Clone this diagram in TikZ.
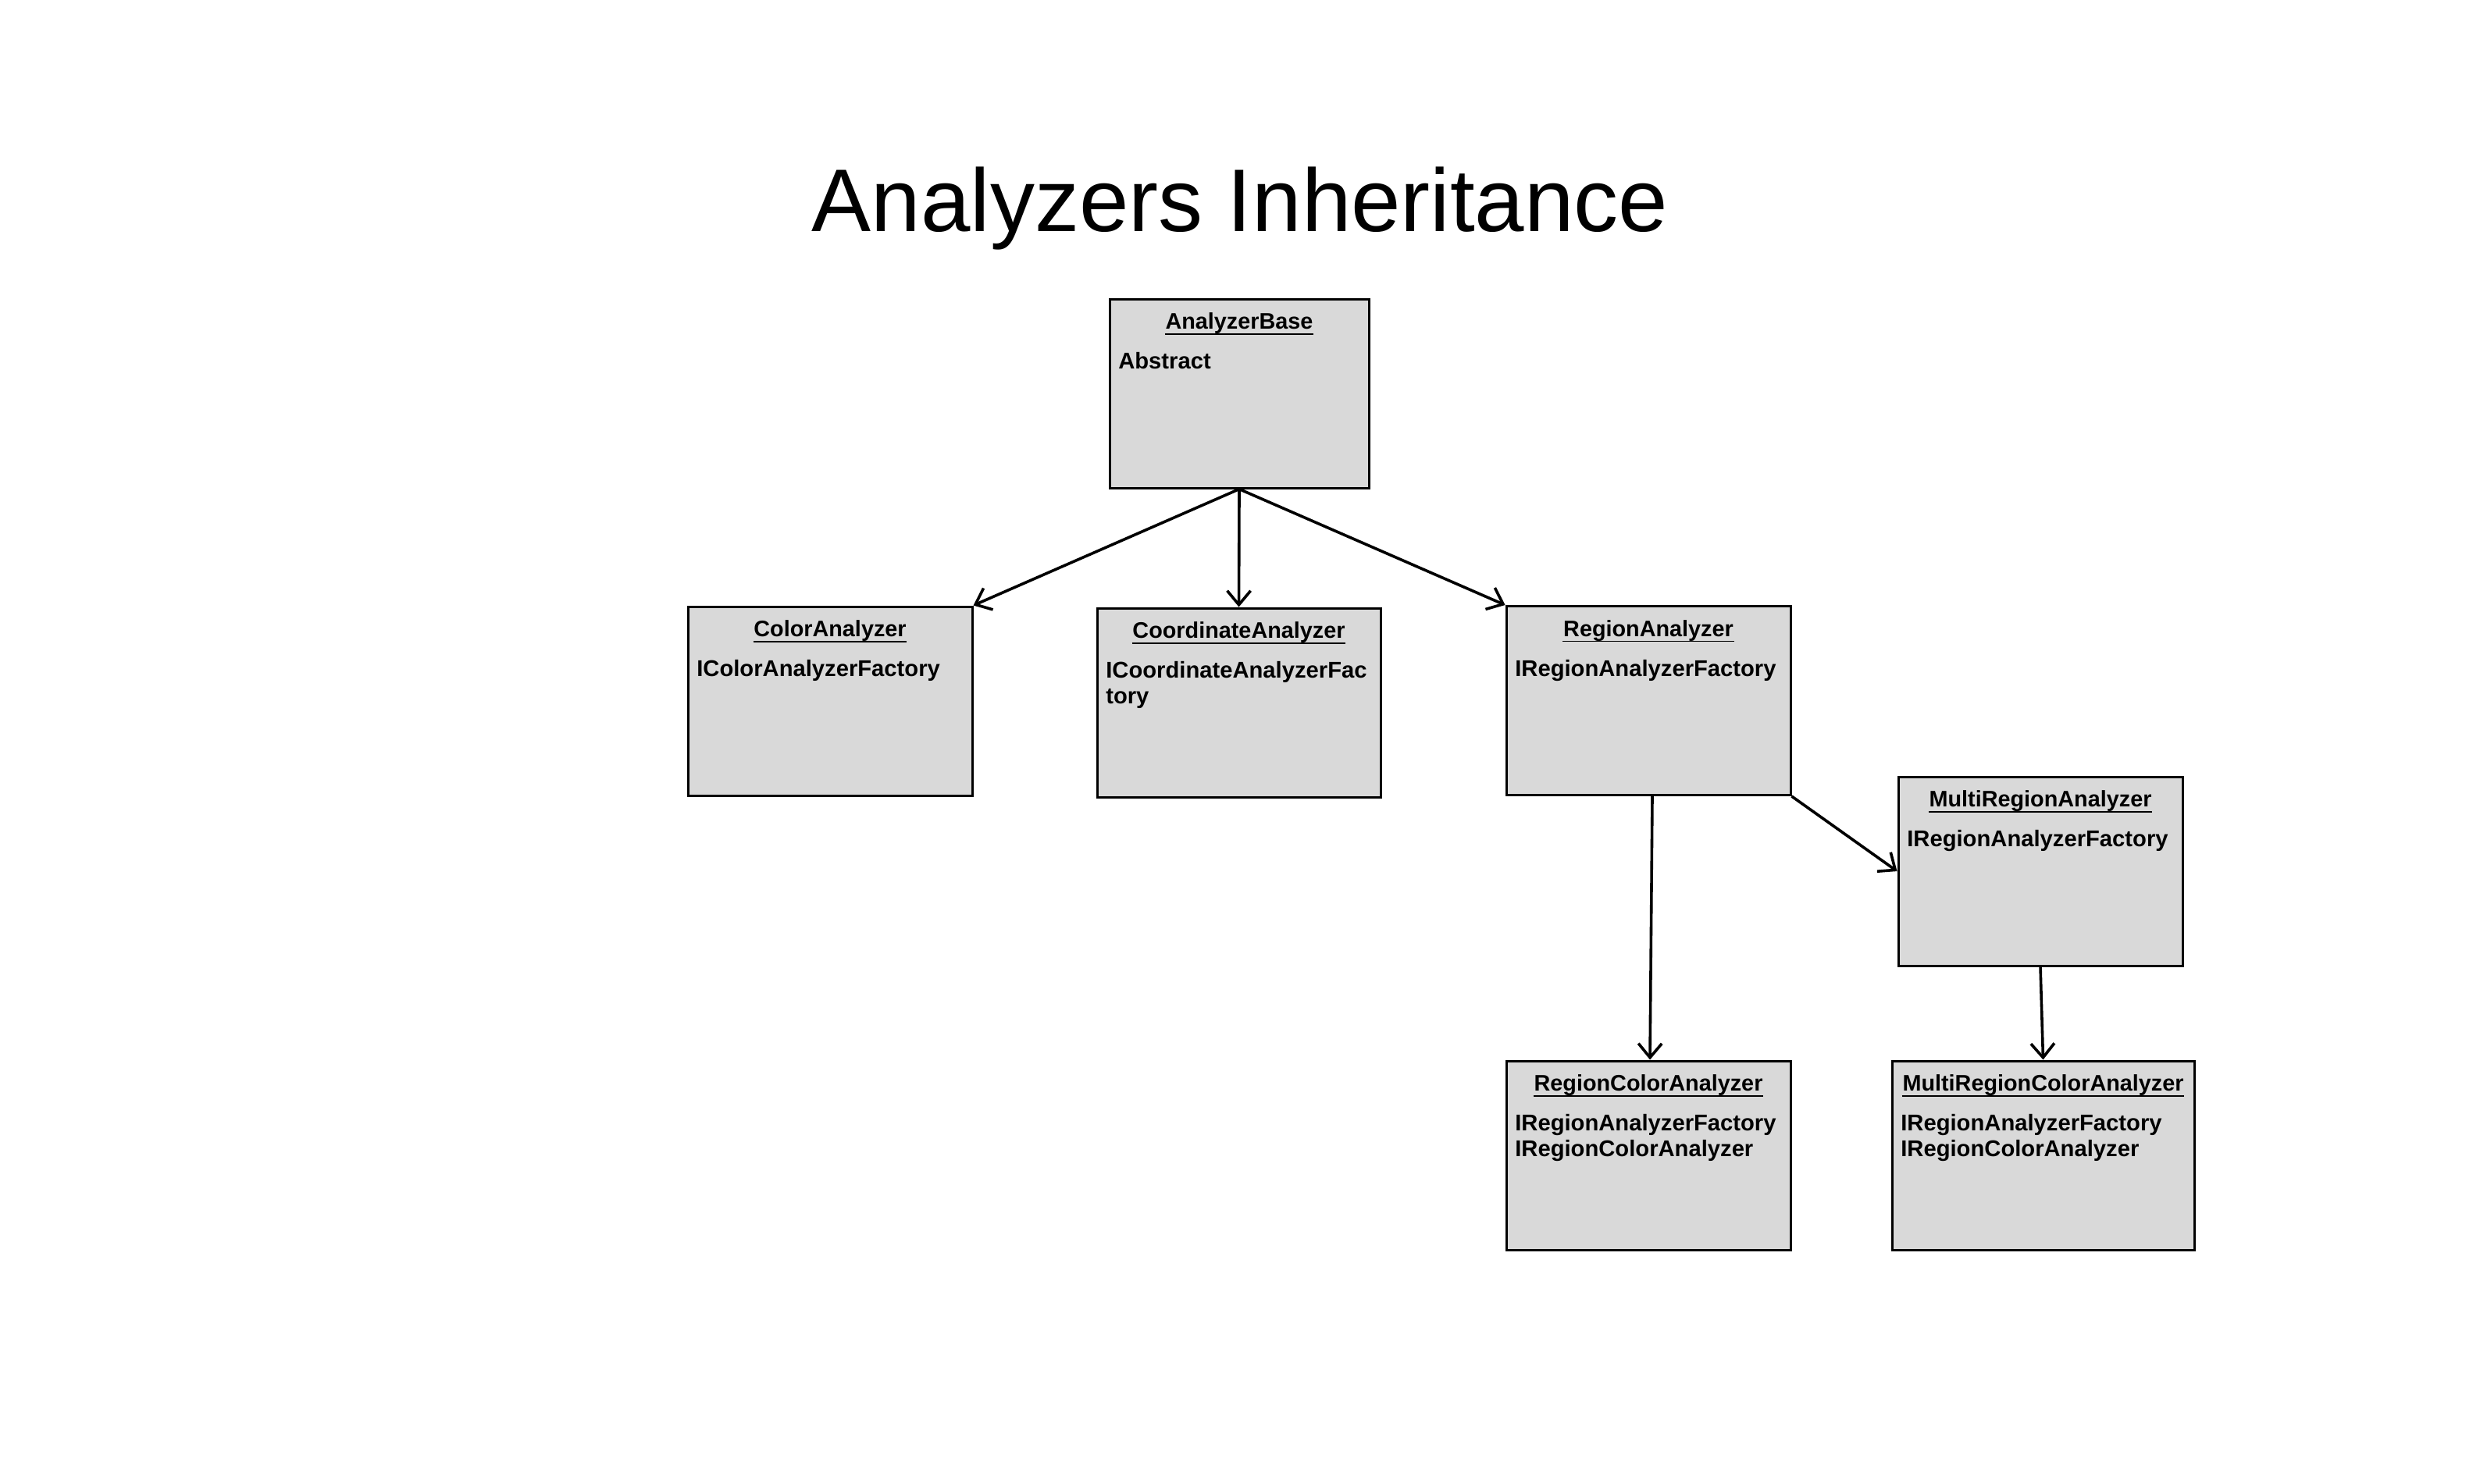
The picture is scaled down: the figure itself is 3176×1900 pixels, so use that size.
\documentclass[tikz,border=0pt]{standalone}
\usepackage{fontspec}
\setmainfont{Liberation Sans}
\usetikzlibrary{arrows.meta}
\definecolor{boxgray}{HTML}{D9D9D9}
\tikzset{
  classbox/.style={draw=black, fill=boxgray, line width=0.75pt, inner sep=0pt, minimum height=60.5pt},
  hdr/.style={anchor=base, inner sep=0pt, font=\fontsize{7.2pt}{8pt}\selectfont\bfseries},
  bodytxt/.style={anchor=base west, inner sep=0pt, font=\fontsize{7.3pt}{8pt}\selectfont\bfseries},
  uline/.style={line width=0.35pt},
  inherit/.style={line width=0.9pt, -{Straight Barb[length=4.5pt,width=7.5pt,line width=0.9pt]}},
}
\begin{document}
\begin{tikzpicture}[x=0.25pt, y=-0.25pt]
\useasboundingbox (0,0) rectangle (3176,1900);

\node[anchor=base, inner sep=0pt, font=\fontsize{28.5pt}{32pt}\selectfont] (title) at (1588,296) {Analyzers Inheritance};

% boxes
\node[classbox, minimum width=83pt] (base) at (1587,504) {};
\node[classbox, minimum width=91pt] (color) at (1063,898) {};
\node[classbox, minimum width=90.75pt] (coord) at (1586.5,900) {};
\node[classbox, minimum width=91pt] (region) at (2111,897.5) {};
\node[classbox, minimum width=91pt] (multi) at (2613,1116) {};
\node[classbox, minimum width=91pt] (rca) at (2111,1480) {};
\node[classbox, minimum width=96.75pt] (mrca) at (2616.5,1480) {};

% headers
\foreach \b/\t in {base/AnalyzerBase, color/ColorAnalyzer, coord/CoordinateAnalyzer, region/RegionAnalyzer, multi/MultiRegionAnalyzer, rca/RegionColorAnalyzer, mrca/MultiRegionColorAnalyzer}{
  \node[hdr] (\b-h) at ([shift={(0,40)}]\b.north) {\t};
  \draw[uline] ([yshift=-1.6pt]\b-h.base west) -- ([yshift=-1.6pt]\b-h.base east);
}

% body texts
\node[bodytxt] (base-t1) at ([shift={(12,91)}]base.north west) {Abstract};
\node[bodytxt] (color-t1) at ([shift={(12,91)}]color.north west) {IColorAnalyzerFactory};
\node[bodytxt] (coord-t1) at ([shift={(12,91)}]coord.north west) {ICoordinateAnalyzerFac};
\node[bodytxt] (coord-t2) at ([shift={(12,124)}]coord.north west) {tory};
\node[bodytxt] (region-t1) at ([shift={(12,91)}]region.north west) {IRegionAnalyzerFactory};
\node[bodytxt] (multi-t1) at ([shift={(12,91)}]multi.north west) {IRegionAnalyzerFactory};
\node[bodytxt] (rca-t1) at ([shift={(12,91)}]rca.north west) {IRegionAnalyzerFactory};
\node[bodytxt] (rca-t2) at ([shift={(12,124)}]rca.north west) {IRegionColorAnalyzer};
\node[bodytxt] (mrca-t1) at ([shift={(12,91)}]mrca.north west) {IRegionAnalyzerFactory};
\node[bodytxt] (mrca-t2) at ([shift={(12,124)}]mrca.north west) {IRegionColorAnalyzer};

% connectors
\draw[inherit] (base.south) -- (color.north east);
\draw[inherit] (base.south) -- (coord.north);
\draw[inherit] (base.south) -- (region.north west);
\draw[inherit] ([xshift=1.25pt]region.south) -- ([xshift=0.5pt]rca.north);
\draw[inherit] (region.south east) -- (multi.west);
\draw[inherit] (multi.south) -- (mrca.north);
\end{tikzpicture}
\end{document}
